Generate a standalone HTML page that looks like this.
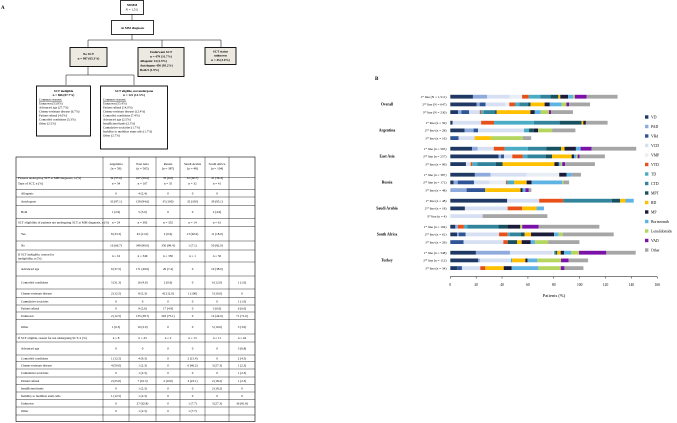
<!DOCTYPE html>
<html><head><meta charset="utf-8"><style>
html,body{margin:0;padding:0;background:#fff;}
svg{display:block;font-family:"Liberation Serif",serif;}
</style></head><body>
<svg id="fig" width="677" height="423" viewBox="0 0 677 423" xmlns="http://www.w3.org/2000/svg">
<text x="1" y="9" font-size="5" font-weight="bold">A</text>
<text x="375" y="80" font-size="5" font-weight="bold">B</text>
<g font-size="3.2" text-anchor="middle">
 <rect x="120.5" y="0.5" width="23" height="14" fill="#fff" stroke="#000" stroke-width="0.8"/>
 <text x="132" y="6" font-weight="bold">NDMM</text><text x="132" y="10.5">N = 1,511</text>
 <line x1="132" y1="14.5" x2="132" y2="20" stroke="#000" stroke-width="0.5"/>
 <rect x="111.5" y="20.5" width="42" height="14" fill="#fff" stroke="#000" stroke-width="0.8"/>
 <text x="132.5" y="29" font-weight="bold">At MM diagnosis</text>
 <path d="M132 34.5V40M88 47V40H221V47M162 40V47" fill="none" stroke="#000" stroke-width="0.5"/>
 <rect x="70" y="47.5" width="37" height="19" fill="#ece9e0" stroke="#000" stroke-width="0.9"/>
 <text x="88.5" y="55" font-weight="bold">No SCT</text><text x="88.5" y="59.5" font-weight="bold">n = 987 (65.3%)</text>
 <rect x="138" y="47.5" width="46" height="29" fill="#ece9e0" stroke="#000" stroke-width="0.9"/>
 <text x="161" y="53" font-weight="bold">Underwent SCT</text><text x="161" y="57.5" font-weight="bold">n = 479 (31.7%)</text>
 <text x="140" y="62" text-anchor="start" font-weight="bold">Allogenic 14 (2.9%)</text><text x="140" y="66.5" text-anchor="start" font-weight="bold">Autologous 456 (95.2%)</text><text x="140" y="71" text-anchor="start" font-weight="bold">Both 9 (1.9%)</text>
 <rect x="205" y="47.5" width="31" height="17" fill="#ece9e0" stroke="#000" stroke-width="0.9"/>
 <text x="220.5" y="52.5" font-weight="bold">SCT status</text><text x="220.5" y="56.5" font-weight="bold">unknown</text><text x="220.5" y="61" font-weight="bold">n = 45 (3.0%)</text>
 <path d="M88 66.5V75M66 85V75H134V85" fill="none" stroke="#000" stroke-width="0.5"/>
 <rect x="36.5" y="86" width="54" height="50" fill="#fff" stroke="#000" stroke-width="0.9"/>
 <text x="63.5" y="92" font-weight="bold">SCT ineligible</text><text x="63.5" y="96" font-weight="bold">n = 866 (87.7%)</text>
 <g text-anchor="start"><text x="39" y="100.5" text-decoration="underline">Common reasons:</text><text x="39" y="104.5">Unknown (53.8%)</text><text x="39" y="108.5">Advanced age (27.7%)</text><text x="39" y="112.5">Chemo-resistant disease (6.7%)</text><text x="39" y="116.5">Patient refusal (4.0%)</text><text x="39" y="120.5">Comorbid conditions (3.3%)</text><text x="39" y="124.5">Other (2.5%)</text></g>
 <rect x="100.5" y="86" width="67" height="63" fill="#fff" stroke="#000" stroke-width="0.9"/>
 <text x="134" y="92" font-weight="bold">SCT eligible, not undergone</text><text x="134" y="96" font-weight="bold">n = 121 (12.3%)</text>
 <g text-anchor="start"><text x="103" y="100.5" text-decoration="underline">Common reasons:</text><text x="103" y="104.5">Unknown (55.4%)</text><text x="103" y="108.5">Patient refusal (14.0%)</text><text x="103" y="112.5">Chemo-resistant disease (12.4%)</text><text x="103" y="116.5">Comorbid conditions (7.4%)</text><text x="103" y="120.5">Advanced age (2.5%)</text><text x="103" y="124.5">Insufficient funds (2.5%)</text><text x="103" y="128.5">Cumulative toxicities (1.7%)</text><text x="103" y="132.5">Inability to mobilize stem cells (1.7%)</text><text x="103" y="136.5">Other (2.7%)</text></g>
</g>
<g id="table"></g>
<g id="chart"></g>
</svg>
<script>
const NS="http://www.w3.org/2000/svg";
function mk(p,t,a){const e=document.createElementNS(NS,t);for(const k in a)e.setAttribute(k,a[k]);p.appendChild(e);return e;}
// ---- TABLE ----
const colX=[16,103,129,156,180,205,229,255];
const headers=["Argentina (n = 59)","East Asia (n = 565)","Russia (n = 387)","Saudi Arabia (n = 48)","South Africa (n = 104)",""];
const rowY=[177.7,189.3,197,205.7,218.3,226.7,241,250,262,276,289,297.3,305,312,319.5,334,342,355,361.5,369,377,384.5,392,399.5,407,415,421.5];
const rows=[
["Patients undergoing SCT at MM diagnosis, n (%)",0,["34 (57.6)","167 (29.6)","35 (9.0)","32 (66.7)","41 (39.4)",""]],
["Type of SCT, n (%)",0,["n = 34","n = 167","n = 35","n = 32","n = 41",""]],
["Allogenic",1,["0","4 (2.4)","0","0","0",""]],
["Autologous",1,["33 (97.1)","158 (94.6)","35 (100)","32 (100)","39 (95.1)",""]],
["Both",1,["1 (2.9)","5 (3.0)","0","0","2 (4.9)",""]],
["SCT eligibility of patients not undergoing SCT at MM diagnosis, n (%)",0,["n = 24","n = 392","n = 352","n = 14","n = 61",""]],
["Yes",1,["8 (33.3)","43 (11.0)","2 (0.6)","13 (92.9)","11 (18.0)",""]],
["No",1,["16 (66.7)","349 (89.0)","350 (99.4)","1 (7.1)","50 (82.0)",""]],
["If SCT ineligible, reason for ineligibility, n (%)",0,["n = 16","n = 349","n = 350","n = 1","n = 50",""]],
["Advanced age",1,["6 (37.5)","171 (49.0)","26 (7.4)","0","19 (38.0)",""]],
["Comorbid conditions",1,["5 (31.3)","16 (4.6)","2 (0.6)","0","6 (12.0)","1 (1.0)"]],
["Chemo-resistant disease",1,["2 (12.5)","8 (2.3)","42 (12.0)","1 (100)","5 (10.0)","0"]],
["Cumulative toxicities",1,["0","0","0","0","0","1 (1.0)"]],
["Patient refusal",1,["0","9 (2.6)","17 (4.9)","0","3 (6.0)","6 (6.0)"]],
["Unknown",1,["2 (12.5)","135 (38.7)","263 (75.1)","0","12 (24.0)","71 (71.0)"]],
["Other",1,["1 (6.3)","10 (2.9)","0","0","5 (10.0)","3 (3.0)"]],
["If SCT eligible, reason for not undergoing SCT, n (%)",0,["n = 8","n = 43","n = 2","n = 13","n = 11","n = 44"]],
["Advanced age",1,["0","0","0","0","0","3 (6.8)"]],
["Comorbid conditions",1,["1 (12.5)","4 (9.3)","0","2 (15.4)","0","2 (4.5)"]],
["Chemo-resistant disease",1,["4 (50.0)","1 (2.3)","0","6 (46.2)","3 (27.3)","1 (2.3)"]],
["Cumulative toxicities",1,["0","1 (2.3)","0","0","0","1 (2.3)"]],
["Patient refusal",1,["2 (25.0)","7 (16.3)","2 (100)","3 (23.1)","2 (18.2)","1 (2.3)"]],
["Insufficient funds",1,["0","1 (2.3)","0","0","2 (18.2)","0"]],
["Inability to mobilize stem cells",1,["1 (12.5)","1 (2.3)","0","0","0","0"]],
["Unknown",1,["0","27 (62.8)","0","1 (7.7)","3 (27.3)","36 (81.8)"]],
["Other",1,["0","1 (2.3)","0","1 (7.7)","",""]]
];
const T=document.getElementById('table');
const tb=mk(T,'rect',{x:16,y:157,width:239,height:264.5,fill:'#fff',stroke:'#000','stroke-width':0.6});


colX.slice(1,-1).forEach(x=>mk(T,'line',{x1:x,y1:157,x2:x,y2:421.5,stroke:'#000','stroke-width':0.4}));
rowY.slice(0,-1).forEach(y=>mk(T,'line',{x1:16,y1:y,x2:255,y2:y,stroke:'#000','stroke-width':0.4}));
headers.forEach((h,i)=>{const cx=(colX[i+1]+colX[i+2])/2;const parts=h.split(' (');
 parts.forEach((p,j)=>{const t=mk(T,'text',{x:cx,y:165+j*4.5,'font-size':3.3,'text-anchor':'middle'});t.textContent=j?'('+p:p;
 
 });});
rows.forEach((r,i)=>{const y0=i?rowY[i-1]:177.7, y1=rowY[i];const h=y1-y0;
 const lab=r[0];const two=lab.length>40&&h>10;
 if(two){const k=lab.lastIndexOf(' ',42);[lab.slice(0,k),lab.slice(k+1)].forEach((s,j)=>{const t=mk(T,'text',{x:18,y:y0+h/2-0.6+j*4,'font-size':3.2});t.textContent=s;});}
 else{const t=mk(T,'text',{x:r[1]?21:18,y:y0+h/2+1.2,'font-size':3.2});t.textContent=lab;
 
 }
 r[2].forEach((v,c)=>{const t=mk(T,'text',{x:(colX[c+1]+colX[c+2])/2,y:y0+h/2+1.2,'font-size':3.2,'text-anchor':'middle'});t.textContent=v;});
});
// ---- CHART ----
const drugs=["VD","PAD","VRd","VCD","VMP","VTD","TD","CTD","MPT","RD","MP","Bortezomib","Lenalidomide","VAD","Other"];
const colors=["#1f3864","#8faadc","#2f5597","#d6e0f2","#e9edf4","#e8501a","#4bacc6","#31849b","#17505e","#ffc000","#1b1b3a","#5eb3e4","#b4d65e","#7b11a7","#a6a6a6"];
const regions=["Overall","Argentina","East Asia","Russia","Saudi Arabia","South Africa","Turkey"];
const lineLabels=["1st line (N = 1,511)","2nd line (N = 647)","3rd line (N = 230)","1st line (n = 59)","2nd line (n = 28)","3rd line (n = 16)","1st line (n = 565)","2nd line (n = 257)","3rd line (n = 99)","1st line (n = 387)","2nd line (n = 171)","3rd line (n = 48)","1st line (n = 48)","2nd line (n = 18)","3rd line (n = 4)","1st line (n = 104)","2nd line (n = 61)","3rd line (n = 29)","1st line (n = 348)","2nd line (n = 112)","3rd line (n = 34)"];
// values per bar in drug order: VD,PAD,VRd,VCD,VMP,VTD,TD,CTD,MPT,RD,MP,Bort,Len,VAD,Other
const ov1=[17.5,11,0,17.5,9.5,5,9,8,6,1.5,6,4,1.3,9,24];
const ov2=[20.4,2.3,4.6,15,3.3,4.4,3.4,6.7,2,10.8,4,9,3.9,2,16.2];
const ov3=[6,2.6,6,8.2,0,1,2,8.8,1.3,26,3.4,4.6,6.4,1.5,17];
const ar1=[1.8,0,0,22,0,10,30.7,20,17,1.3,2,0,0,0,16.8];
const ar2=[11,7,3.4,35.6,0,0,3.9,0,3.6,0,3.4,0,10.8,0,18];
const ar3=[0,0,6.4,12.4,0,0,0,0,0,12.6,0,0,24.7,0,6.4];
const ea1=[16.8,4.4,0,12.4,0,8.5,17.8,14.2,11.6,2.6,8.8,3.6,0,8.5,34.5];
const ea2=[37.4,1.8,2.3,6.4,0,8.2,3.4,14.2,4.9,15.2,1.8,1.8,1,1.5,19.6];
const ea3=[12.1,0,0,3.6,0,1.3,3.9,14.4,5.2,40,3.4,1.3,1.3,2.3,23];
const ru1=[19,12.1,0,27.8,25.3,0,0,0,0,0,5.7,3.9,0,0,7.2];
const ru2=[2.6,3.1,12.6,12.1,12.6,0.8,5.7,0,0,9.5,3.9,23.5,1,0,4.4];
const ru3=[0,12.6,14.4,0,0,0,0,0,0,27.3,1.5,2.3,0,2.6,2];
const sa1=[44,0,0,24.7,0,18.6,0,37.6,6.4,4.1,0,6.4,0,0,0];
const sa2=[11.3,0,0,33,0,11.1,0,0,0,11.3,0,5.7,0,0,0];
const sa3=[0,0,0,25,0,0,0,0,0,0,0,0,0,0,50];
const sf1=[3.9,2,0,0,0,4.6,2.8,24,7,0,9.8,0,1.5,12.6,47];
const sf2=[5.2,1.3,5.4,25.8,0,6.7,1.5,8.5,3.1,4.9,17.8,3.6,3.1,0,39.4];
const sf3=[0,0,10.3,30.7,0,3.4,0,0,7.2,3.6,7,3.4,10,0,24.2];
const tu1=[19.8,26.3,0,33,1.3,0,0,1.3,1,2.6,2.6,5.4,6.2,21.1,22.7];
const tu2=[21.6,1.3,0,24,0,0,0.8,0,0,10.3,1.8,7.5,18.3,5.9,15];
const tu3=[5.4,0,3.6,14.2,0,3.9,0,0,0,14.2,6.2,20.6,17.3,2.8,14.7];
const series=[ov1,ov2,ov3,ar1,ar2,ar3,ea1,ea2,ea3,ru1,ru2,ru3,sa1,sa2,sa3,sf1,sf2,sf3,tu1,tu2,tu3];
const ticks=[0,20,40,60,80,100,120,140,160];
const X0=450.3,X1=657.3,XMAX=160;
const xs=v=>X0+v/XMAX*(X1-X0);
const yBar=i=>96.7+Math.floor(i/3)*26+(i%3)*7.7;
const C=document.getElementById('chart');
series.forEach((vals,i)=>{let acc=0;const y=yBar(i);
 vals.forEach((v,d)=>{if(v<=0)return;
  const r=mk(C,'rect',{x:xs(acc),y:y-1.9,width:xs(acc+v)-xs(acc),height:3.8,fill:colors[d]});
  
  
  acc+=v;});
 const t=mk(C,'text',{x:446.5,y:y+1.2,'font-size':3.4,'text-anchor':'end'});
 const m=lineLabels[i].match(/^(\d)(\w+)( .*)$/);
 t.innerHTML=m[1]+'<tspan font-size="2.3" dy="-1">'+m[2]+'</tspan><tspan dy="1">'+m[3]+'</tspan>';
 
 
});
regions.forEach((r,g)=>{const t=mk(C,'text',{x:387,y:yBar(g*3+1)+1.3,'font-size':3.8,'font-weight':'bold','text-anchor':'middle'});t.textContent=r;
 
 });
mk(C,'line',{x1:X0,y1:276.7,x2:X1,y2:276.7,stroke:'#000','stroke-width':0.5});
ticks.forEach(v=>{mk(C,'line',{x1:xs(v),y1:276.7,x2:xs(v),y2:278.5,stroke:'#000','stroke-width':0.5});
 const t=mk(C,'text',{x:xs(v),y:286,'font-size':3.6,'text-anchor':'middle'});t.textContent=v;
 
 });
const xt=mk(C,'text',{x:554,y:297,'font-size':4.6,'text-anchor':'middle'});xt.textContent='Patients (%)';


drugs.forEach((d,i)=>{const y=117+i*9.5;
 const g=mk(C,'g',{});
 
 
 mk(g,'rect',{x:645,y:y-1.7,width:3.4,height:3.4,fill:colors[i]});
 const t=mk(g,'text',{x:651,y:y+1.3,'font-size':3.8});t.textContent=d;});
</script>
</body></html>
